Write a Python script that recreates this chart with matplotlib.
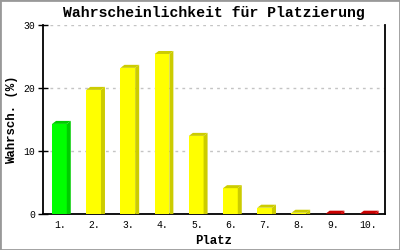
import matplotlib
matplotlib.use('Agg')
import matplotlib.pyplot as plt
from matplotlib.patches import Polygon, Rectangle

places = ['1.', '2.', '3.', '4.', '5.', '6.', '7.', '8.', '9.', '10.']
probs = [14.3, 19.7, 23.2, 25.4, 12.4, 4.1, 1.0, 0.2, 0.05, 0.05]
front_cols = ['#00ff00'] + ['#ffff00'] * 7 + ['#ff0000'] * 2
side_cols = ['#00cc00'] + ['#cccc00'] * 7 + ['#cc0000'] * 2

plt.rcParams['font.family'] = ['Liberation Mono', 'DejaVu Sans Mono']

fig = plt.figure(figsize=(4, 2.5), dpi=100)
ax = fig.add_axes([43/400, 36/250, 342/400, 189/250])

w = 0.43
dx = 4 / 34.2   # depth of the fake 3d in data units
dy = 3 / 6.3
xs = [i - 0.02 for i in range(len(probs))]
ax.bar(xs, probs, width=w, color=front_cols, zorder=3)
for x, h, c in zip(xs, probs, side_cols):
    x0, x1 = x - w/2, x + w/2
    ax.add_patch(Polygon([(x1, 0), (x1 + dx, 0), (x1 + dx, h + dy), (x1, h)],
                         closed=True, color=c, lw=0, zorder=3))
    ax.add_patch(Polygon([(x0, h), (x0 + dx, h + dy), (x1 + dx, h + dy), (x1, h)],
                         closed=True, color=c, lw=0, zorder=3))

ax.set_xlim(-0.5, 9.5)
ax.set_ylim(0, 30)
ax.set_yticks([0, 10, 20, 30])
ax.set_xticks(range(len(places)))
ax.set_xticklabels(places)
ax.tick_params(axis='x', length=0, labelsize=7, pad=4)
ax.tick_params(axis='y', direction='inout', length=7, width=1, labelsize=7, pad=2)
ax.yaxis.grid(True, color='#c4c4c4', linestyle=(0, (2, 3)), lw=1)
ax.set_axisbelow(True)
ax.spines['top'].set_visible(False)
for s in ['left', 'right', 'bottom']:
    ax.spines[s].set_linewidth(1.3)

ax.set_title('Wahrscheinlichkeit für Platzierung', fontsize=10.7, fontweight='bold', pad=6)
ax.set_xlabel('Platz', fontsize=8.9, fontweight='bold', labelpad=4)
ax.set_ylabel('Wahrsch. (%)', fontsize=8.9, fontweight='bold', labelpad=4)

fig.patches.append(Rectangle((0, 0), 1, 1, transform=fig.transFigure,
                             fill=False, edgecolor='#999999', lw=2))

plt.savefig('out.png', dpi=100)
